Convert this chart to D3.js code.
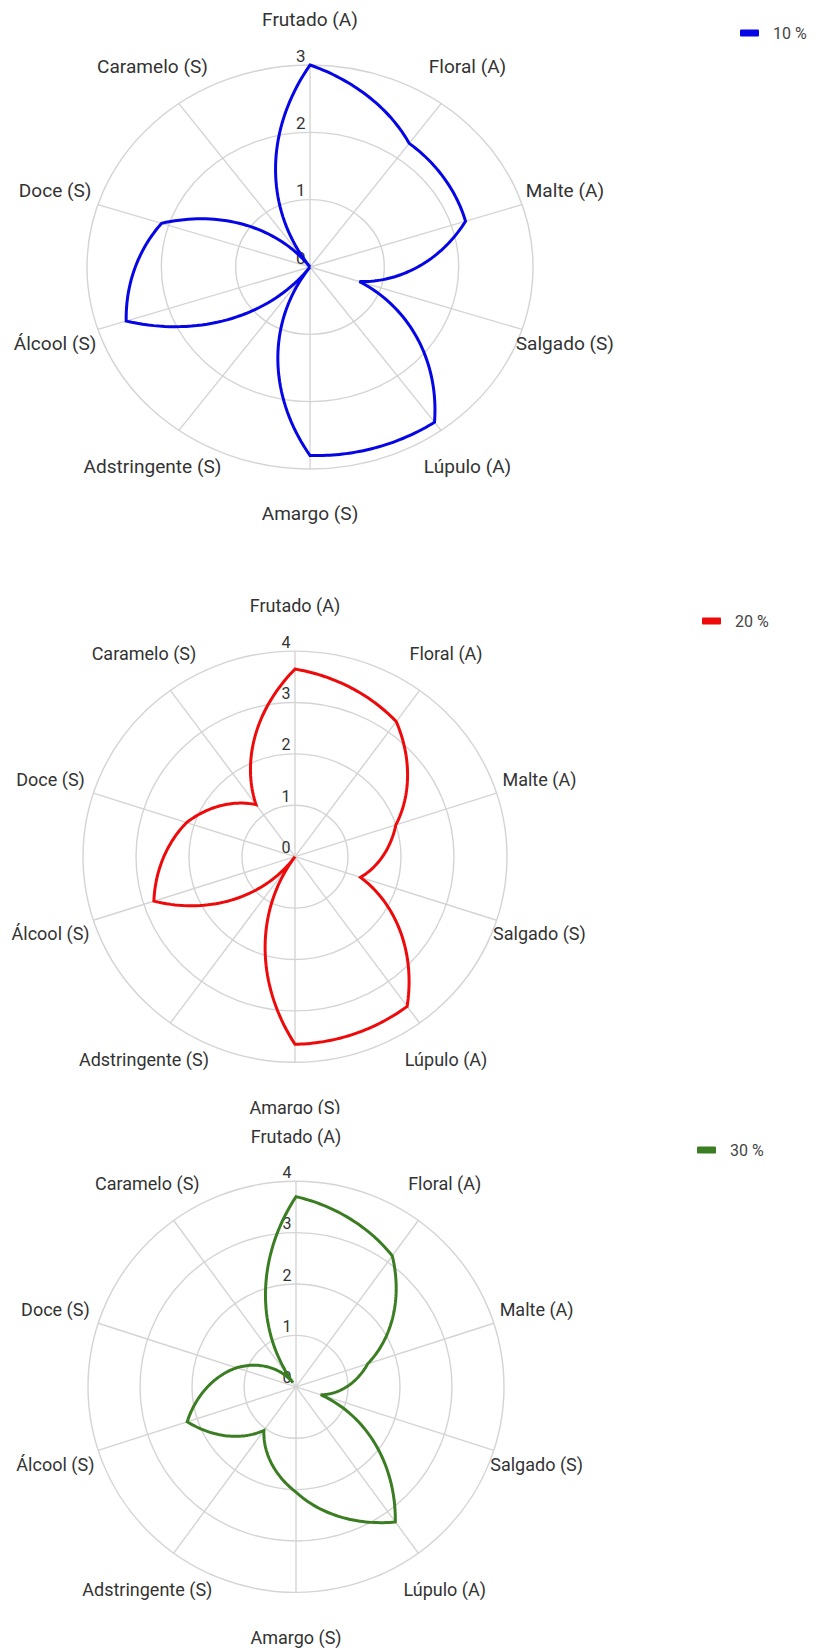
<!DOCTYPE html>
<html>
<head>
<meta charset="utf-8">
<script src="https://cdn.jsdelivr.net/npm/d3@7"></script>
<style>
  html, body { margin: 0; padding: 0; background: #fff; }
  svg { display: block; font-family: Roboto, "Noto Sans", sans-serif; }
</style>
</head>
<body>
<svg id="chart" width="816" height="1650"></svg>
<script>
// ---------------- data ----------------
const categories = ["Frutado (A)", "Floral (A)", "Malte (A)", "Salgado (S)", "Lúpulo (A)",
                    "Amargo (S)", "Adstringente (S)", "Álcool (S)", "Doce (S)", "Caramelo (S)"];
const values10 = [3.0, 2.27, 2.2, 0.7, 2.85, 2.8, 0, 2.6, 2.1, 0];
const values20 = [3.65, 3.25, 2.0, 1.3, 3.6, 3.65, 0, 2.8, 2.15, 1.25];
const values30 = [3.7, 3.15, 1.45, 0.5, 3.25, 2.05, 1.05, 2.2, 1.2, 0.1];
const seriesNames = ["10 %", "20 %", "30 %"];
const ticks10 = [0, 1, 2, 3];
const ticks20 = [0, 1, 2, 3, 4];
const ticks30 = [0, 1, 2, 3, 4];

// ---------------- layout / style ----------------
const panels = [
  { values: values10, name: seriesNames[0], ticks: ticks10, color: "#0505e6", textSx: 1.06,
    cx: 310, cy: 267, rxOuter: 223, ryOuter: 202, clip: [0, 575], legend: [740, 33] },
  { values: values20, name: seriesNames[1], ticks: ticks20, color: "#ee0a0a", textSx: 1.0,
    cx: 295, cy: 856.7, rxOuter: 212, ryOuter: 205.6, clip: [575, 1114], legend: [702, 621] },
  { values: values30, name: seriesNames[2], ticks: ticks30, color: "#3b7d22", textSx: 1.0,
    cx: 296, cy: 1386.8, rxOuter: 208, ryOuter: 205.6, clip: [1114, 1650], legend: [697, 1150] }
];

const svg = d3.select("#chart");
const defs = svg.append("defs");
const labelOffset = 45;

panels.forEach((p, pi) => {
  const maxV = d3.max(p.ticks);
  const rx = d3.scaleLinear().domain([0, maxV]).range([0, p.rxOuter]);
  const ry = d3.scaleLinear().domain([0, maxV]).range([0, p.ryOuter]);
  const angle = d3.scaleLinear().domain([0, categories.length]).range([0, 2 * Math.PI]);
  const px = (v, a) => p.cx + rx(v) * Math.sin(a);
  const py = (v, a) => p.cy - ry(v) * Math.cos(a);
  const place = (x, y) => `translate(${x},${y}) scale(${p.textSx},1)`;

  defs.append("clipPath").attr("id", "clip" + pi)
    .append("rect").attr("x", 0).attr("y", p.clip[0])
    .attr("width", 816).attr("height", p.clip[1] - p.clip[0]);

  const g = svg.append("g").attr("clip-path", `url(#clip${pi})`);

  // rings
  g.selectAll("ellipse.ring").data(p.ticks.filter(t => t > 0)).join("ellipse")
    .attr("class", "ring")
    .attr("cx", p.cx).attr("cy", p.cy)
    .attr("rx", d => rx(d)).attr("ry", d => ry(d))
    .attr("fill", "none").attr("stroke", "#d4d4d4").attr("stroke-width", 1.4);

  // spokes
  g.selectAll("line.spoke").data(categories).join("line")
    .attr("class", "spoke")
    .attr("x1", p.cx).attr("y1", p.cy)
    .attr("x2", (d, i) => px(maxV, angle(i)))
    .attr("y2", (d, i) => py(maxV, angle(i)))
    .attr("stroke", "#d4d4d4").attr("stroke-width", 1.4);

  // tick labels along the first spoke
  g.selectAll("text.tick").data(p.ticks).join("text")
    .attr("class", "tick")
    .attr("transform", d => place(p.cx - 4.5, p.cy - ry(d) - 3.5))
    .attr("text-anchor", "end")
    .attr("font-size", 16)
    .attr("fill", "#333")
    .text(d => d);

  // category labels
  g.selectAll("text.cat").data(categories).join("text")
    .attr("class", "cat")
    .attr("transform", (d, i) => place(
      p.cx + (p.rxOuter + labelOffset) * Math.sin(angle(i)),
      p.cy - (p.ryOuter + labelOffset) * Math.cos(angle(i))))
    .attr("dy", "0.35em")
    .attr("text-anchor", "middle")
    .attr("font-size", 18)
    .attr("fill", "#333")
    .text(d => d);

  // series path: radius interpolated along the angle between successive categories
  const path = d3.path();
  const n = p.values.length;
  const steps = 40;
  for (let i = 0; i < n; i++) {
    const v0 = p.values[i], v1 = p.values[(i + 1) % n];
    const a0 = angle(i), a1 = angle(i + 1);
    for (let s = 0; s <= steps; s++) {
      const t = s / steps;
      const v = v0 + (v1 - v0) * t;
      const a = a0 + (a1 - a0) * t;
      if (i === 0 && s === 0) path.moveTo(px(v, a), py(v, a));
      else path.lineTo(px(v, a), py(v, a));
    }
  }
  path.closePath();
  g.append("path")
    .attr("d", path.toString())
    .attr("fill", "none")
    .attr("stroke", p.color)
    .attr("stroke-width", 3)
    .attr("stroke-linejoin", "miter");

  // legend
  const lg = svg.append("g").attr("transform", `translate(${p.legend[0]},${p.legend[1]})`);
  lg.append("rect").attr("x", 0).attr("y", -3.5).attr("width", 19).attr("height", 7)
    .attr("rx", 1).attr("fill", p.color);
  lg.append("text").attr("x", 33).attr("y", 0).attr("dy", "0.35em")
    .attr("font-size", 16).attr("fill", "#444").text(p.name);
});
</script>
</body>
</html>
